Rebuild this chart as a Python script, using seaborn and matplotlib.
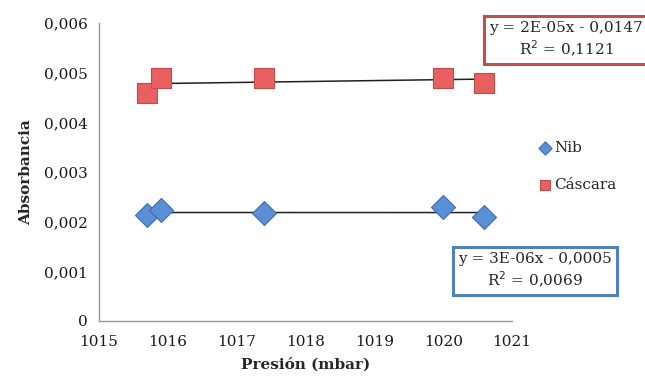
import numpy as np
import pandas as pd
import matplotlib
matplotlib.use("Agg")
import matplotlib.pyplot as plt
import seaborn as sns
from matplotlib.ticker import FuncFormatter

# Data
presion = [1015.7, 1015.9, 1017.4, 1020.0, 1020.6]
nib = [0.00213, 0.00223, 0.00218, 0.00229, 0.00209]
cascara = [0.0046, 0.0049, 0.0049, 0.0049, 0.0048]
series_names = ["Nib", "Cáscara"]
eq_nib = ["y = 3E-06x - 0,0005", "R$^2$ = 0,0069"]
eq_cas = ["y = 2E-05x - 0,0147", "R$^2$ = 0,1121"]

df = pd.DataFrame({
    "Presión": presion * 2,
    "Absorbancia": nib + cascara,
    "Serie": [series_names[0]] * len(presion) + [series_names[1]] * len(presion),
})

sns.set_theme(style="white")
plt.rcParams["font.family"] = ["DejaVu Serif"]

fig = plt.figure(figsize=(6.45, 3.81), dpi=100)
ax = fig.add_axes([99/645, 1-321/381, (512-99)/645, (321-23)/381])

# Trend lines
for name, vals in [("Nib", nib), ("Cáscara", cascara)]:
    sns.regplot(x=presion, y=vals, ax=ax, scatter=False, ci=None, truncate=True,
                line_kws=dict(color="#202020", lw=1.1, zorder=2))

pal = {"Nib": "#5A8ED6", "Cáscara": "#E8605F"}
edges = {"Nib": "#3C6FB6", "Cáscara": "#C44B4A"}
for name, mk, sz in [("Nib", "D", 150), ("Cáscara", "s", 190)]:
    sub = df[df["Serie"] == name]
    sns.scatterplot(data=sub, x="Presión", y="Absorbancia", ax=ax, marker=mk, s=sz,
                    color=pal[name], edgecolor=edges[name], linewidth=0.8,
                    label=name, zorder=3)

ax.set_xlim(1015, 1021)
ax.set_ylim(0, 0.006)
ax.set_xticks(range(1015, 1022))
ax.set_yticks(np.arange(0, 0.0061, 0.001))
ax.yaxis.set_major_formatter(FuncFormatter(lambda v, p: "0" if abs(v) < 1e-12 else f"{v:.3f}".replace(".", ",")))

for s in ["top", "right"]:
    ax.spines[s].set_visible(False)
for s in ["left", "bottom"]:
    ax.spines[s].set_color("#9a9a9a")
    ax.spines[s].set_linewidth(1.0)
ax.tick_params(axis="both", which="major", direction="out", length=4, width=1,
               color="#9a9a9a", labelsize=11, labelcolor="#1a1a1a", pad=4)
ax.tick_params(axis="x", pad=6)

ax.set_xlabel("Presión (mbar)", fontsize=11, fontweight="bold", labelpad=6)
ax.set_ylabel("Absorbancia", fontsize=11, fontweight="bold", labelpad=8)

leg = ax.legend(loc="upper left", bbox_to_anchor=(530/645, 1-133/381),
                bbox_transform=fig.transFigure, frameon=False, fontsize=11,
                markerscale=0.55, handletextpad=0.1, labelspacing=1.5,
                handlelength=1.0, borderpad=0)

# Equation boxes
fig.text(489/645, 1-40/381, eq_cas[0] + "\n" + eq_cas[1], fontsize=11, ha="left", va="center",
         multialignment="center", linespacing=1.25,
         bbox=dict(boxstyle="square,pad=0.35", fc="white", ec="#C0504D", lw=2.2))
fig.text(535/645, 1-271/381, eq_nib[0] + "\n" + eq_nib[1], fontsize=11, ha="center", va="center",
         multialignment="center", linespacing=1.25,
         bbox=dict(boxstyle="square,pad=0.35", fc="white", ec="#4F81BD", lw=2.2))

fig.savefig("out.png", dpi=100)
